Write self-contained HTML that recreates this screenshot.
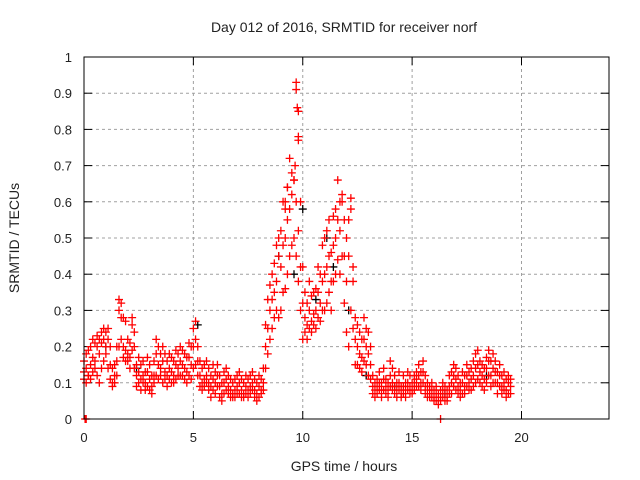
<!DOCTYPE html>
<html><head><meta charset="utf-8"><style>
body{margin:0;background:#fff}
svg{display:block;font-family:"Liberation Sans",sans-serif}
</style></head><body>
<svg id="chart" width="640" height="480" xmlns="http://www.w3.org/2000/svg">
<rect width="640" height="480" fill="#fff"/>
<text x="344" y="32" font-size="14" text-anchor="middle" fill="#222">Day 012 of 2016, SRMTID for receiver norf</text>
<text x="344" y="471" font-size="14" text-anchor="middle" fill="#222">GPS time / hours</text>
<text transform="translate(19,238) rotate(-90)" font-size="14" text-anchor="middle" fill="#222">SRMTID / TECUs</text>
<g id="grid"></g>
<g id="axes"></g>
<g id="marks"></g>
<rect x="84" y="57" width="525" height="362" fill="none" stroke="#000" stroke-width="1"/>
</svg>
<script>
const xTicks=[0,5,10,15,20];
const yTicks=[0,0.1,0.2,0.3,0.4,0.5,0.6,0.7,0.8,0.9,1];
const yTickLabels=["0","0.1","0.2","0.3","0.4","0.5","0.6","0.7","0.8","0.9","1"];
const timeStart=0, timeStep=0.1;
const redMid=[.13,.14,.12,.15,.17,.16,.2,.18,.21,.22,.2,.22,.15,.1,.12,.16,.3,.28,.2,.19,.18,.17,.26,.2,.12,.13,.11,.12,.1,.13,.11,.09,.12,.18,.15,.14,.16,.13,.12,.14,.13,.12,.15,.14,.16,.15,.14,.13,.17,.15,.2,.22,.16,.12,.1,.11,.12,.1,.09,.11,.1,.12,.09,.07,.1,.11,.09,.08,.07,.08,.09,.1,.08,.07,.09,.08,.09,.1,.08,.07,.09,.08,.1,.2,.25,.3,.33,.35,.38,.45,.42,.48,.5,.55,.58,.62,.66,.6,.52,.42,.32,.28,.26,.3,.27,.29,.3,.35,.32,.38,.4,.42,.45,.38,.48,.5,.55,.52,.6,.45,.38,.45,.58,.38,.22,.2,.18,.17,.22,.2,.18,.15,.09,.08,.09,.1,.08,.11,.09,.08,.12,.1,.09,.08,.1,.07,.09,.08,.1,.09,.08,.1,.11,.12,.1,.13,.09,.08,.07,.08,.06,.07,.05,.06,.08,.07,.06,.09,.1,.12,.11,.09,.08,.1,.09,.12,.1,.11,.12,.14,.15,.13,.12,.11,.14,.16,.12,.14,.13,.1,.12,.09,.1,.08,.1,.09];
const redLow=[.11,.1,.12,.11,.13,.14,.12,.1,.14,.16,.18,.14,.11,.09,.1,.12,.2,.22,.17,.16,.16,.14,.19,.14,.09,.1,.08,.1,.08,.09,.08,.07,.1,.12,.11,.12,.1,.11,.09,.11,.1,.1,.11,.12,.12,.12,.11,.1,.12,.11,.14,.15,.12,.09,.08,.09,.1,.08,.06,.08,.07,.09,.06,.05,.07,.08,.07,.06,.06,.06,.07,.07,.06,.06,.07,.06,.07,.08,.06,.05,.06,.07,.08,.14,.18,.22,.25,.28,.3,.28,.3,.35,.36,.4,.45,.48,.5,.45,.38,.3,.22,.24,.22,.25,.24,.26,.25,.28,.27,.3,.3,.32,.35,.3,.38,.4,.44,.4,.45,.32,.24,.2,.3,.25,.15,.15,.14,.13,.16,.15,.12,.11,.07,.06,.07,.08,.06,.08,.07,.06,.09,.08,.07,.06,.08,.06,.07,.06,.08,.07,.07,.08,.09,.09,.08,.1,.07,.06,.06,.06,.05,.05,.04,.05,.06,.05,.05,.07,.07,.09,.08,.07,.06,.07,.07,.09,.08,.08,.09,.1,.11,.1,.09,.08,.1,.12,.09,.1,.1,.07,.09,.07,.08,.06,.07,.07];
const redHigh=[.16,.18,.19,.2,.22,.21,.23,.22,.24,.25,.24,.25,.2,.14,.15,.2,.33,.32,.28,.27,.22,.21,.28,.24,.15,.17,.15,.16,.13,.17,.15,.12,.16,.22,.2,.18,.2,.18,.16,.18,.17,.16,.19,.18,.2,.19,.18,.17,.21,.2,.25,.27,.2,.16,.14,.15,.16,.14,.12,.15,.13,.15,.12,.1,.13,.14,.12,.11,.1,.11,.12,.13,.11,.1,.12,.11,.12,.13,.11,.1,.12,.11,.14,.26,.33,.37,.4,.43,.48,.5,.52,.6,.58,.64,.72,.68,.66,.93,.85,.6,.42,.35,.32,.38,.34,.35,.36,.42,.4,.48,.5,.52,.55,.46,.56,.58,.66,.6,.62,.55,.5,.55,.61,.42,.28,.26,.24,.22,.28,.25,.24,.2,.12,.1,.11,.13,.1,.14,.11,.1,.16,.14,.12,.1,.13,.09,.12,.1,.13,.12,.1,.12,.13,.15,.13,.16,.12,.1,.09,.1,.08,.09,.07,.08,.1,.09,.08,.12,.13,.15,.14,.12,.1,.13,.12,.15,.13,.14,.16,.18,.19,.16,.15,.14,.17,.19,.16,.18,.16,.13,.15,.12,.13,.11,.12,.11];
const peakTimes=[9.7,9.75,9.8,9.8,9.2,9.3,9.65];
const peakValues=[.91,.86,.78,.77,.6,.64,.7];
const blackTimes=[1.0,2.4,5.2,8.9,9.6,10.0,10.6,11.1,11.4,12.1,12.9,14.2,16.5,18.4];
const blackValues=[.2,.14,.26,.45,.4,.58,.33,.5,.42,.3,.12,.09,.07,.12];
const zeroTimes=[0.05,0.1,16.3];
const zeroValues=[0,0,0];

const NS="http://www.w3.org/2000/svg";
const L=84,R=609,T=57,B=419;
const xs=t=>L+t/24*(R-L);
const ys=v=>B-v*(B-T);
function mk(tag,attrs,parent){const e=document.createElementNS(NS,tag);for(const k in attrs)e.setAttribute(k,attrs[k]);parent.appendChild(e);return e;}
const grid=document.getElementById('grid'),axes=document.getElementById('axes'),marks=document.getElementById('marks');
yTicks.forEach((v,i)=>{
  const y=ys(v);
  if(v>0&&v<1){const g=mk('line',{x1:L,x2:R,y1:y,y2:y,stroke:'#a0a0a0','stroke-dasharray':'3,3'},grid);
  
  }
  const t1=mk('line',{x1:L,x2:L+8,y1:y,y2:y,stroke:'#000'},axes);
  
  
  const t2=mk('line',{x1:R-8,x2:R,y1:y,y2:y,stroke:'#000'},axes);
  
  
  const tx=mk('text',{x:L-12,y:y+5,'font-size':13,'text-anchor':'end',fill:'#222'},axes);
  tx.textContent=yTickLabels[i];
  
  
});
xTicks.forEach(t=>{
  const x=xs(t);
  if(t>0){const g=mk('line',{x1:x,x2:x,y1:T,y2:B,stroke:'#a0a0a0','stroke-dasharray':'3,3'},grid);
  
  }
  const t1=mk('line',{x1:x,x2:x,y1:B-8,y2:B,stroke:'#000'},axes);
  
  
  const t2=mk('line',{x1:x,x2:x,y1:T,y2:T+8,stroke:'#000'},axes);
  
  
  const tx=mk('text',{x:x,y:B+23,'font-size':13,'text-anchor':'middle',fill:'#222'},axes);
  tx.textContent=String(t);
  
  
});
function plus(t,v,color,name){
  const x=xs(t),y=ys(v);
  const p=mk('path',{d:`M${x-4},${y}H${x+4}M${x},${y-4}V${y+4}`,stroke:color,'stroke-width':1.3,fill:'none'},marks);
  
  
}
blackTimes.forEach((t,i)=>plus(t,blackValues[i],'#000','black-point'));
[redLow,redMid,redHigh].forEach(arr=>arr.forEach((v,i)=>plus(timeStart+i*timeStep,v,'#f00','red-point')));
peakTimes.forEach((t,i)=>plus(t,peakValues[i],'#f00','peak-point'));
zeroTimes.forEach((t,i)=>plus(t,zeroValues[i],'#f00','zero-point'));
</script>
</body></html>
